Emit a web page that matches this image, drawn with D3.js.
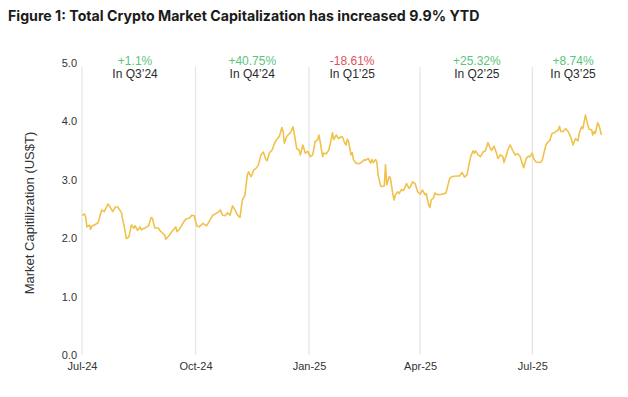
<!DOCTYPE html>
<html>
<head>
<meta charset="utf-8">
<script src="https://cdn.jsdelivr.net/npm/d3@7"></script>
<style>
  body { margin: 0; background: #fff; }
  svg { display: block; font-family: "Liberation Sans", Arial, sans-serif; }
</style>
</head>
<body>
<svg id="chart" width="628" height="397"></svg>
<script>
// market cap, US$ trillions
const dates = [
  "2024-07-01","2024-07-03","2024-07-04","2024-07-05","2024-07-07","2024-07-08","2024-07-09","2024-07-11","2024-07-14","2024-07-17",
  "2024-07-19","2024-07-22","2024-07-24","2024-07-26","2024-07-28","2024-07-30","2024-08-02","2024-08-03","2024-08-04","2024-08-06",
  "2024-08-08","2024-08-10","2024-08-12","2024-08-13","2024-08-15","2024-08-17","2024-08-18","2024-08-21","2024-08-24","2024-08-26",
  "2024-08-27","2024-08-29","2024-09-01","2024-09-02","2024-09-04","2024-09-06","2024-09-07","2024-09-10","2024-09-12","2024-09-15",
  "2024-09-16","2024-09-18","2024-09-21","2024-09-23","2024-09-26","2024-09-28","2024-09-30","2024-10-02","2024-10-04","2024-10-07",
  "2024-10-10","2024-10-12","2024-10-15","2024-10-17","2024-10-20","2024-10-21","2024-10-23","2024-10-25","2024-10-27","2024-10-29",
  "2024-10-31","2024-11-02","2024-11-04","2024-11-06","2024-11-08","2024-11-10","2024-11-12","2024-11-13","2024-11-15","2024-11-16",
  "2024-11-17","2024-11-19","2024-11-21","2024-11-23","2024-11-25","2024-11-27","2024-11-28","2024-11-30","2024-12-02","2024-12-04",
  "2024-12-06","2024-12-08","2024-12-10","2024-12-11","2024-12-12","2024-12-14","2024-12-17","2024-12-19","2024-12-20","2024-12-22",
  "2024-12-24","2024-12-25","2024-12-27","2024-12-29","2024-12-31","2025-01-02","2025-01-04","2025-01-06","2025-01-08","2025-01-09",
  "2025-01-10","2025-01-12","2025-01-13","2025-01-15","2025-01-17","2025-01-19","2025-01-20","2025-01-21","2025-01-23","2025-01-25",
  "2025-01-26","2025-01-28","2025-01-30","2025-01-31","2025-02-01","2025-02-02","2025-02-04","2025-02-05","2025-02-06","2025-02-08",
  "2025-02-11","2025-02-13","2025-02-15","2025-02-16","2025-02-18","2025-02-20","2025-02-21","2025-02-22","2025-02-24","2025-02-25",
  "2025-02-26","2025-02-28","2025-03-01","2025-03-03","2025-03-04","2025-03-05","2025-03-07","2025-03-08","2025-03-09","2025-03-10",
  "2025-03-11","2025-03-12","2025-03-14","2025-03-15","2025-03-17","2025-03-18","2025-03-19","2025-03-21","2025-03-23","2025-03-24",
  "2025-03-26","2025-03-28","2025-03-30","2025-04-01","2025-04-03","2025-04-05","2025-04-06","2025-04-08","2025-04-09","2025-04-10",
  "2025-04-12","2025-04-13","2025-04-14","2025-04-16","2025-04-19","2025-04-22","2025-04-25","2025-04-27","2025-05-01","2025-05-03",
  "2025-05-05","2025-05-07","2025-05-09","2025-05-12","2025-05-14","2025-05-15","2025-05-16","2025-05-18","2025-05-20","2025-05-22",
  "2025-05-24","2025-05-26","2025-05-28","2025-05-29","2025-05-31","2025-06-02","2025-06-03","2025-06-05","2025-06-07","2025-06-08",
  "2025-06-10","2025-06-11","2025-06-13","2025-06-15","2025-06-17","2025-06-19","2025-06-21","2025-06-22","2025-06-24","2025-06-26",
  "2025-06-28","2025-06-29","2025-07-01","2025-07-02","2025-07-04","2025-07-06","2025-07-08","2025-07-09","2025-07-12","2025-07-14",
  "2025-07-15","2025-07-17","2025-07-19","2025-07-22","2025-07-23","2025-07-24","2025-07-26","2025-07-28","2025-07-30","2025-08-01",
  "2025-08-03","2025-08-04","2025-08-05","2025-08-07","2025-08-08","2025-08-10","2025-08-11","2025-08-13","2025-08-15","2025-08-16",
  "2025-08-18","2025-08-19","2025-08-20","2025-08-21","2025-08-23","2025-08-24","2025-08-26"
];
const marketCap = [
  2.39,2.41,2.36,2.19,2.22,2.15,2.21,2.22,2.26,2.48,
  2.45,2.58,2.52,2.45,2.53,2.53,2.43,2.31,2.22,1.99,
  2.02,2.22,2.17,2.21,2.13,2.19,2.14,2.17,2.21,2.35,
  2.34,2.17,2.17,2.13,2.09,2.05,1.98,2.05,2.11,2.19,
  2.11,2.15,2.26,2.32,2.34,2.39,2.38,2.21,2.19,2.25,
  2.21,2.28,2.39,2.41,2.45,2.48,2.39,2.38,2.43,2.39,
  2.55,2.48,2.39,2.35,2.65,2.73,3.08,3.13,3.05,3.09,
  3.16,3.19,3.25,3.42,3.47,3.34,3.32,3.46,3.50,3.62,
  3.69,3.74,3.89,3.82,3.62,3.74,3.80,3.90,3.79,3.53,
  3.50,3.42,3.59,3.45,3.48,3.39,3.42,3.65,3.68,3.76,
  3.65,3.39,3.45,3.44,3.50,3.69,3.80,3.68,3.76,3.70,
  3.72,3.73,3.62,3.59,3.69,3.65,3.42,3.46,3.34,3.28,
  3.27,3.30,3.34,3.33,3.36,3.28,3.34,3.29,3.34,3.30,
  3.08,2.89,2.88,2.89,3.25,2.91,3.05,3.02,2.88,2.74,
  2.65,2.74,2.79,2.76,2.83,2.81,2.83,2.93,2.85,2.87,
  2.96,2.93,2.79,2.75,2.82,2.74,2.76,2.56,2.52,2.65,
  2.69,2.77,2.75,2.74,2.75,2.77,3.02,3.05,3.06,3.06,
  3.12,3.04,3.08,3.39,3.49,3.45,3.49,3.42,3.39,3.47,
  3.49,3.63,3.53,3.50,3.57,3.45,3.36,3.42,3.40,3.29,
  3.42,3.50,3.59,3.50,3.42,3.44,3.40,3.33,3.20,3.36,
  3.40,3.39,3.45,3.36,3.30,3.29,3.30,3.33,3.59,3.65,
  3.66,3.79,3.80,3.85,3.91,3.82,3.82,3.87,3.82,3.73,
  3.59,3.65,3.70,3.66,3.79,3.90,3.87,4.10,3.93,3.86,
  3.85,3.76,3.82,3.79,3.97,3.93,3.76
];
const yTicks = [0, 1, 2, 3, 4, 5];
// quarter call-outs
const quarterChange = ["+1.1%", "+40.75%", "-18.61%", "+25.32%", "+8.74%"];
const quarterLabel = ["In Q3\u201924", "In Q4\u201924", "In Q1\u201925", "In Q2\u201925", "In Q3\u201925"];
const quarterMid = ["2024-08-13", "2024-11-16", "2025-02-05", "2025-05-17", "2025-08-03"];

const parse = d3.timeParse("%Y-%m-%d");
const data = dates.map((d, i) => ({date: parse(d), value: marketCap[i]}));

const svg = d3.select("#chart");

const x = d3.scaleTime()
  .domain([parse("2024-07-01"), parse("2025-08-31")])
  .range([82, 607.6]);

const y = d3.scaleLinear()
  .domain([0, 5])
  .range([355, 62.5]);

// title
const title = svg.append("text")
  .attr("x", 8)
  .attr("y", 21)
  .style("font-family", "Inter, 'Open Sans', sans-serif")
  .style("font-weight", "700")
  .style("font-size", "14px")
  .attr("fill", "#1b1b1b")
  .text("Figure 1: Total Crypto Market Capitalization has increased 9.9% YTD");
// squeeze the title to the width it has in the picture
const tw = title.node().getComputedTextLength();
title.style("font-size", (14 * 472 / tw) + "px");

// vertical quarter lines
const xTicks = x.ticks(d3.timeMonth.every(3));
svg.append("g")
  .selectAll("line")
  .data(xTicks)
  .enter()
  .append("line")
  .attr("x1", d => x(d))
  .attr("x2", d => x(d))
  .attr("y1", 67)
  .attr("y2", y(0))
  .attr("stroke", "#e4e4e4")
  .attr("stroke-width", 1.2);

// x axis labels
const xAxis = svg.append("g")
  .attr("transform", "translate(0," + y(0) + ")")
  .call(d3.axisBottom(x).tickValues(xTicks).tickFormat(d3.timeFormat("%b-%y")).tickSize(0).tickPadding(7));
xAxis.select(".domain").remove();
xAxis.selectAll("text")
  .style("font-family", "'Liberation Sans', Arial, sans-serif")
  .style("font-size", "11px")
  .attr("fill", "#333");

// y axis labels
const yAxis = svg.append("g")
  .attr("transform", "translate(77,0)")
  .call(d3.axisLeft(y).tickValues(yTicks).tickFormat(d3.format(".1f")).tickSize(0).tickPadding(0));
yAxis.select(".domain").remove();
yAxis.selectAll("text")
  .style("font-family", "'Liberation Sans', Arial, sans-serif")
  .style("font-size", "11px")
  .attr("fill", "#333");

// Y axis title
svg.append("text")
  .attr("text-anchor", "middle")
  .attr("transform", "translate(34,213) rotate(-90)")
  .style("font-size", "13px")
  .attr("fill", "#333")
  .text("Market Capitilization (US$T)");

// the line
const line = d3.line()
  .x(d => x(d.date))
  .y(d => y(d.value));

svg.append("path")
  .datum(data)
  .attr("d", line)
  .attr("fill", "none")
  .attr("stroke", "#f0c24c")
  .attr("stroke-width", 1.6)
  .attr("stroke-linejoin", "round");

// quarter annotations
const notes = svg.append("g");
notes.selectAll("text.chg")
  .data(quarterChange)
  .enter()
  .append("text")
  .attr("class", "chg")
  .attr("x", (d, i) => x(parse(quarterMid[i])))
  .attr("y", 65)
  .attr("text-anchor", "middle")
  .style("font-size", "12px")
  .attr("fill", d => d.startsWith("-") ? "#e2505c" : "#5cc47c")
  .text(d => d);

notes.selectAll("text.qtr")
  .data(quarterLabel)
  .enter()
  .append("text")
  .attr("class", "qtr")
  .attr("x", (d, i) => x(parse(quarterMid[i])))
  .attr("y", 78)
  .attr("text-anchor", "middle")
  .style("font-size", "12px")
  .attr("fill", "#2b2b2b")
  .text(d => d);
</script>
</body>
</html>
